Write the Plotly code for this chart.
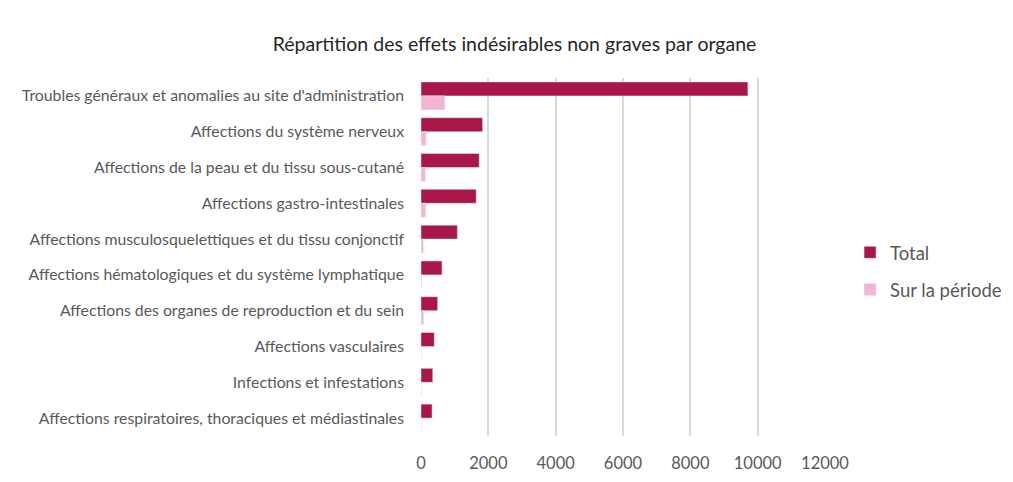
import plotly.graph_objects as go

# Categories, top to bottom as shown
organes = [
    "Troubles généraux et anomalies au site d'administration",
    "Affections du système nerveux",
    "Affections de la peau et du tissu sous-cutané",
    "Affections gastro-intestinales",
    "Affections musculosquelettiques et du tissu conjonctif",
    "Affections hématologiques et du système lymphatique",
    "Affections des organes de reproduction et du sein",
    "Affections vasculaires",
    "Infections et infestations",
    "Affections respiratoires, thoraciques et médiastinales",
]
total = [9710, 1830, 1730, 1640, 1080, 625, 495, 395, 350, 330]
sur_periode = [710, 150, 130, 140, 70, 20, 80, 10, 10, 10]
x_ticks = [0, 2000, 4000, 6000, 8000, 10000, 12000]

fig = go.Figure()
fig.add_trace(go.Bar(y=organes, x=total, name="Total", orientation="h",
                     marker_color="#A8164A", legendgroup="total"))
fig.add_trace(go.Bar(y=organes, x=sur_periode, name="Sur la période", orientation="h",
                     marker_color="#F2B6D5", legendgroup="periode"))

# the page body adds an 8px margin, so the figure is sized a bit smaller
fig.update_layout(
    width=1005, height=474,
    barmode="group", bargap=0.22, bargroupgap=0,
    paper_bgcolor="white", plot_bgcolor="white",
    font=dict(family="Lato, Open Sans, sans-serif", size=15.8, color="#595959"),
    title=dict(text="Répartition des effets indésirables non graves par organe",
               x=0.504, xanchor="center", y=0.924, yanchor="middle",
               font=dict(size=19.5, color="#262626")),
    margin=dict(l=413, r=188, t=70, b=46, autoexpand=False),
    legend=dict(x=1.062, y=0.46, xanchor="left", yanchor="middle",
                font=dict(size=18.5, color="#595959"), tracegroupgap=10,
                itemwidth=30),
    xaxis=dict(range=[0, 12000], tickvals=x_ticks,
               ticktext=[str(v) for v in x_ticks], showgrid=True,
               gridcolor="#D9D9D9", gridwidth=2, zeroline=False,
               ticklabelstandoff=15, tickfont=dict(size=16.5)),
    yaxis=dict(autorange="reversed", showgrid=False, ticklabelstandoff=16,
               showline=False),
)

fig.write_html("out.html")
